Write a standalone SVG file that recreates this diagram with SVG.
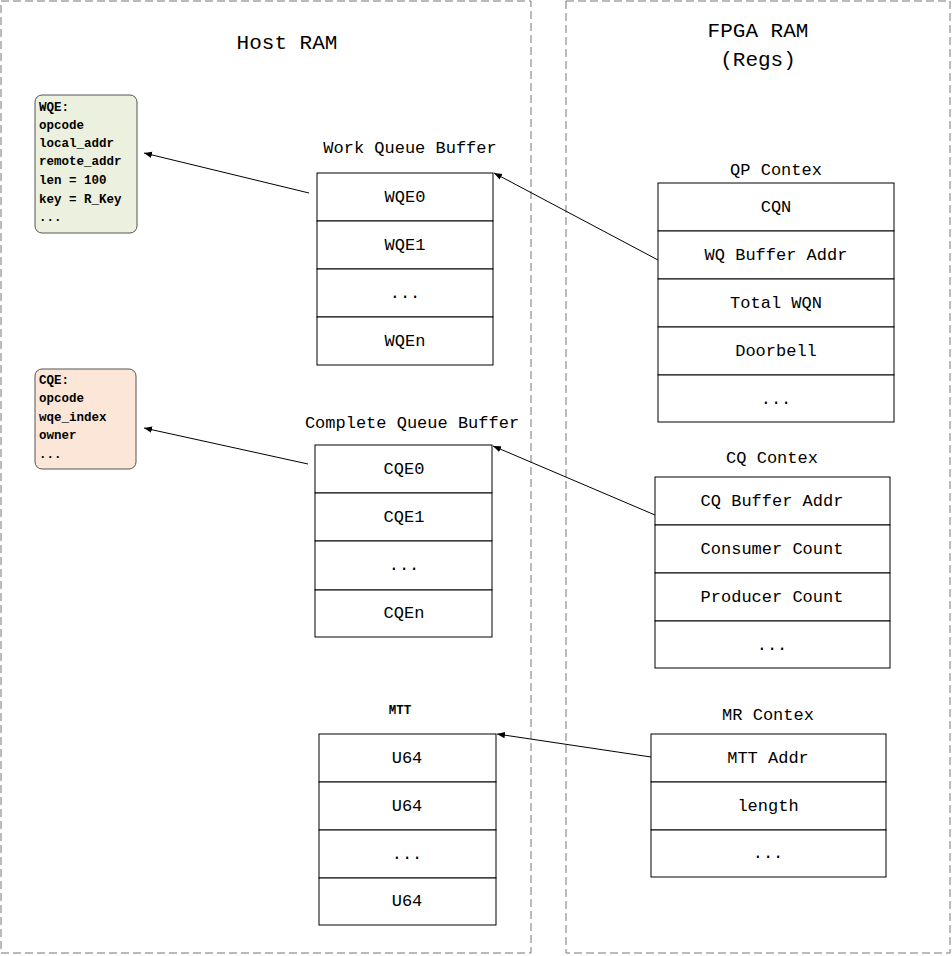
<svg xmlns="http://www.w3.org/2000/svg" width="952" height="956" viewBox="0 0 952 956">
<defs>
<style>
.region{fill:none;stroke:#777;stroke-width:1;stroke-dasharray:8,4}
.cell{fill:#fff;stroke:#000;stroke-width:1}
.t{font-family:"Liberation Mono",monospace;font-size:17px;fill:#000;text-anchor:middle;dominant-baseline:central}
.h{font-family:"Liberation Mono",monospace;font-size:21px;fill:#000;text-anchor:middle}
.n{font-family:"Liberation Mono",monospace;font-size:12.5px;font-weight:bold;fill:#000}
.conn{stroke:#000;stroke-width:1;fill:none;marker-end:url(#ah)}
</style>
<marker id="ah" viewBox="0 0 10 10" refX="10" refY="5" markerWidth="8" markerHeight="8" markerUnits="userSpaceOnUse" orient="auto">
<path d="M0,1 L10,5 L0,9 Z" fill="#000"/>
</marker>
</defs>
<rect width="952" height="956" fill="#fff"/>

<g id="host-ram">
<rect class="region" x="1" y="1" width="530" height="952"/>
<text class="h" x="287" y="49">Host RAM</text>
</g>
<g id="fpga-ram">
<rect class="region" x="566" y="1" width="384" height="952"/>
<text class="h" x="758" y="37">FPGA RAM</text>
<text class="h" x="758" y="66">(Regs)</text>
</g>

<g id="wqe-note">
<rect x="35" y="95" width="102" height="138" rx="7" ry="7" fill="#ebf1de" stroke="#555"/>
<text class="n" x="39" y="111">WQE:</text>
<text class="n" x="39" y="129">opcode</text>
<text class="n" x="39" y="147">local_addr</text>
<text class="n" x="39" y="165">remote_addr</text>
<text class="n" x="39" y="184">len = 100</text>
<text class="n" x="39" y="203">key = R_Key</text>
<text class="n" x="39" y="221">...</text>
</g>

<g id="cqe-note">
<rect x="35" y="369" width="101" height="100" rx="7" ry="7" fill="#fbe6d8" stroke="#555"/>
<text class="n" x="39" y="384">CQE:</text>
<text class="n" x="39" y="402">opcode</text>
<text class="n" x="39" y="421">wqe_index</text>
<text class="n" x="39" y="439">owner</text>
<text class="n" x="39" y="458">...</text>
</g>

<g id="work-queue-buffer">
<text class="t" x="410" y="148">Work Queue Buffer</text>
<rect class="cell" x="317" y="173" width="176" height="48"/>
<rect class="cell" x="317" y="221" width="176" height="48"/>
<rect class="cell" x="317" y="269" width="176" height="48"/>
<rect class="cell" x="317" y="317" width="176" height="48"/>
<text class="t" x="405" y="197">WQE0</text>
<text class="t" x="405" y="245">WQE1</text>
<text class="t" x="405" y="293">...</text>
<text class="t" x="405" y="341">WQEn</text>
</g>

<g id="complete-queue-buffer">
<text class="t" x="412" y="423">Complete Queue Buffer</text>
<rect class="cell" x="315" y="445" width="177" height="48"/>
<rect class="cell" x="315" y="493" width="177" height="48"/>
<rect class="cell" x="315" y="541" width="177" height="49"/>
<rect class="cell" x="315" y="590" width="177" height="47"/>
<text class="t" x="404" y="469">CQE0</text>
<text class="t" x="404" y="517">CQE1</text>
<text class="t" x="404" y="565">...</text>
<text class="t" x="404" y="613">CQEn</text>
</g>

<g id="mtt">
<text class="n" x="400" y="714" text-anchor="middle">MTT</text>
<rect class="cell" x="319" y="734" width="177" height="48"/>
<rect class="cell" x="319" y="782" width="177" height="48"/>
<rect class="cell" x="319" y="830" width="177" height="48"/>
<rect class="cell" x="319" y="878" width="177" height="47"/>
<text class="t" x="407" y="758">U64</text>
<text class="t" x="407" y="806">U64</text>
<text class="t" x="407" y="854">...</text>
<text class="t" x="407" y="901">U64</text>
</g>

<g id="qp-context">
<text class="t" x="776" y="170">QP Contex</text>
<rect class="cell" x="658" y="183" width="236" height="48"/>
<rect class="cell" x="658" y="231" width="236" height="48"/>
<rect class="cell" x="658" y="279" width="236" height="48"/>
<rect class="cell" x="658" y="327" width="236" height="48"/>
<rect class="cell" x="658" y="375" width="236" height="47"/>
<text class="t" x="776" y="207">CQN</text>
<text class="t" x="776" y="255">WQ Buffer Addr</text>
<text class="t" x="776" y="303">Total WQN</text>
<text class="t" x="776" y="351">Doorbell</text>
<text class="t" x="776" y="399">...</text>
</g>

<g id="cq-context">
<text class="t" x="772" y="458">CQ Contex</text>
<rect class="cell" x="655" y="477" width="235" height="48"/>
<rect class="cell" x="655" y="525" width="235" height="48"/>
<rect class="cell" x="655" y="573" width="235" height="48"/>
<rect class="cell" x="655" y="621" width="235" height="47"/>
<text class="t" x="772" y="501">CQ Buffer Addr</text>
<text class="t" x="772" y="549">Consumer Count</text>
<text class="t" x="772" y="597">Producer Count</text>
<text class="t" x="772" y="645">...</text>
</g>

<g id="mr-context">
<text class="t" x="768" y="715">MR Contex</text>
<rect class="cell" x="651" y="734" width="235" height="48"/>
<rect class="cell" x="651" y="782" width="235" height="48"/>
<rect class="cell" x="651" y="830" width="235" height="47"/>
<text class="t" x="768" y="758">MTT Addr</text>
<text class="t" x="768" y="806">length</text>
<text class="t" x="768" y="853">...</text>
</g>

<g id="connectors">
<line class="conn" x1="309" y1="193" x2="144" y2="153"/>
<line class="conn" x1="308" y1="464" x2="144" y2="428"/>
<line class="conn" x1="658" y1="260" x2="494" y2="173"/>
<line class="conn" x1="655" y1="515" x2="493" y2="446"/>
<line class="conn" x1="651" y1="757" x2="497" y2="734"/>
</g>
</svg>
